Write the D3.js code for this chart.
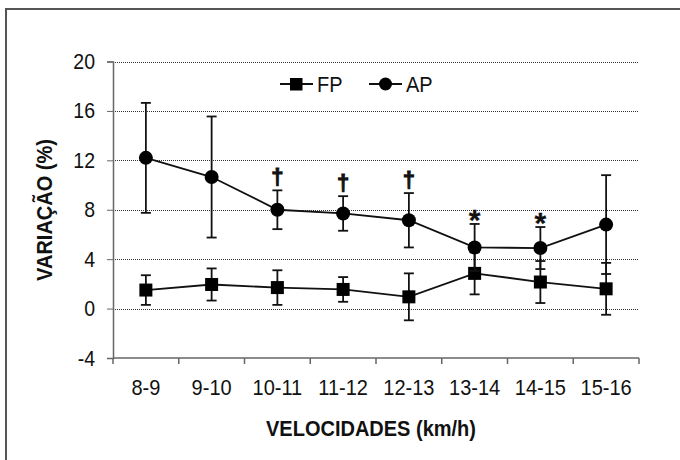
<!DOCTYPE html>
<html>
<head>
<meta charset="utf-8">
<script src="https://cdn.jsdelivr.net/npm/d3@7"></script>
<style>
html,body{margin:0;padding:0;background:#fff;}
svg{display:block;font-family:"Liberation Sans",Arial,sans-serif;}
</style>
</head>
<body>
<svg id="chart" width="680" height="460"></svg>
<script>
const categories = ["8-9","9-10","10-11","11-12","12-13","13-14","14-15","15-16"];
const fpMean = [1.5, 1.95, 1.7, 1.55, 0.95, 2.85, 2.15, 1.6];
const fpSD   = [1.2, 1.3, 1.4, 1.0, 1.9, 1.7, 1.7, 2.1];
const apMean = [12.2, 10.65, 8.0, 7.7, 7.15, 4.95, 4.9, 6.8];
const apSD   = [4.45, 4.9, 1.57, 1.4, 2.2, 1.9, 1.7, 4.0];
const annotations = ["", "", "†", "†", "†", "*", "*", ""];
const yTicks = [-4, 0, 4, 8, 12, 16, 20];
const gridTicks = [0, 4, 8, 12, 16, 20];
const seriesNames = ["FP", "AP"];

const svg = d3.select("#chart");
const x = d3.scaleBand().domain(categories).range([113, 639]).padding(0);
const y = d3.scaleLinear().domain([-4, 20]).range([358, 61.5]);
const cx = c => x(c) + x.bandwidth() / 2;
const SY = 1.1; // slight vertical stretch of text as in the reference

function stretchedText(sel, px, py, rot) {
  sel.attr("x", 0).attr("y", 0)
     .attr("transform", `translate(${px},${py})` + (rot ? ` rotate(${rot})` : "") + ` scale(1,${SY})`);
  return sel;
}

// outer frame
svg.append("rect").attr("x", 6).attr("y", 9).attr("width", 700).attr("height", 480)
  .attr("fill", "none").attr("stroke", "#555").attr("stroke-width", 2);

// gridlines
svg.append("g").selectAll("line").data(gridTicks).join("line")
  .attr("x1", 113).attr("x2", 639)
  .attr("y1", d => Math.round(y(d)) + 0.5).attr("y2", d => Math.round(y(d)) + 0.5)
  .attr("stroke", "#333").attr("stroke-width", 1).attr("stroke-dasharray", "1,1");

// y axis
const yAxis = d3.axisLeft(y).tickValues(yTicks).tickSize(6).tickPadding(12).tickFormat(d => String(d));
const gy = svg.append("g").attr("transform", "translate(113,0)").call(yAxis);
gy.select(".domain").attr("stroke", "#666").attr("stroke-width", 1.5);
gy.selectAll(".tick line").attr("stroke", "#666");
gy.selectAll(".tick text").each(function() {
  const t = d3.select(this);
  t.attr("dy", null).attr("dominant-baseline", null);
  stretchedText(t, -18, 7);
}).attr("font-size", 19.5).attr("fill", "#111")
  .attr("font-family", "'Liberation Sans',Arial,sans-serif");

// x axis: line + ticks at category boundaries
const gx = svg.append("g");
gx.append("line").attr("x1", 113).attr("x2", 639).attr("y1", y(-4)).attr("y2", y(-4))
  .attr("stroke", "#666").attr("stroke-width", 1.5);
gx.selectAll("line.tk").data(categories).join("line").attr("class", "tk")
  .attr("x1", d => x(d)).attr("x2", d => x(d))
  .attr("y1", y(-4)).attr("y2", y(-4) + 6).attr("stroke", "#666").attr("stroke-width", 1.5);
gx.append("line").attr("x1", 639).attr("x2", 639).attr("y1", y(-4)).attr("y2", y(-4) + 6)
  .attr("stroke", "#666").attr("stroke-width", 1.5);
gx.selectAll("text").data(categories).join("text")
  .each(function(d) { stretchedText(d3.select(this), cx(d), 395); })
  .attr("text-anchor", "middle").attr("font-size", 20).attr("fill", "#111").text(d => d);

// axis titles
stretchedText(svg.append("text"), 371, 436)
  .attr("text-anchor", "middle").attr("font-size", 20).attr("font-weight", "bold").attr("fill", "#111")
  .text("VELOCIDADES (km/h)");
stretchedText(svg.append("text"), 52, 210, -90)
  .attr("text-anchor", "middle").attr("font-size", 20).attr("font-weight", "bold").attr("fill", "#111")
  .text("VARIAÇÃO (%)");

const line = d3.line().x((d, i) => cx(categories[i])).y(d => y(d));

function drawSeries(means, sds, shape) {
  const g = svg.append("g");
  g.append("path").attr("d", line(means)).attr("fill", "none")
    .attr("stroke", "#111").attr("stroke-width", 1.8);
  const eb = g.selectAll("g.eb").data(means).join("g").attr("class", "eb");
  eb.append("line").attr("x1", (d, i) => cx(categories[i])).attr("x2", (d, i) => cx(categories[i]))
    .attr("y1", (d, i) => y(d - sds[i])).attr("y2", (d, i) => y(d + sds[i]))
    .attr("stroke", "#111").attr("stroke-width", 1.8);
  [-1, 1].forEach(s => {
    eb.append("line").attr("x1", (d, i) => cx(categories[i]) - 5).attr("x2", (d, i) => cx(categories[i]) + 5)
      .attr("y1", (d, i) => y(d + s * sds[i])).attr("y2", (d, i) => y(d + s * sds[i]))
      .attr("stroke", "#111").attr("stroke-width", 1.8);
  });
  if (shape === "square") {
    g.selectAll("rect").data(means).join("rect")
      .attr("x", (d, i) => cx(categories[i]) - 6.5).attr("y", d => y(d) - 6.5)
      .attr("width", 13).attr("height", 13).attr("fill", "#000");
  } else {
    g.selectAll("circle").data(means).join("circle")
      .attr("cx", (d, i) => cx(categories[i])).attr("cy", d => y(d)).attr("r", 7).attr("fill", "#000");
  }
}
drawSeries(fpMean, fpSD, "square");
drawSeries(apMean, apSD, "circle");

// significance marks
svg.append("g").selectAll("text").data(annotations).join("text")
  .attr("x", (d, i) => cx(categories[i]))
  .attr("y", (d, i) => d === "†" ? y(apMean[i] + apSD[i]) - 6 : y(apMean[i] + apSD[i]) + 6)
  .attr("text-anchor", "middle").attr("font-weight", "bold")
  .attr("font-size", d => d === "†" ? 22 : 30).attr("fill", "#111")
  .attr("stroke", "#111").attr("stroke-width", d => d === "†" ? 1 : 0.3)
  .text(d => d);

// legend
const lg = svg.append("g");
const legendItems = [{name: seriesNames[0], x0: 280, shape: "square"}, {name: seriesNames[1], x0: 369, shape: "circle"}];
legendItems.forEach(it => {
  lg.append("line").attr("x1", it.x0).attr("x2", it.x0 + 33).attr("y1", 84).attr("y2", 84)
    .attr("stroke", "#111").attr("stroke-width", 1.8);
  if (it.shape === "square") {
    lg.append("rect").attr("x", it.x0 + 10).attr("y", 78).attr("width", 12.5).attr("height", 12.5).attr("fill", "#000");
  } else {
    lg.append("circle").attr("cx", it.x0 + 16.5).attr("cy", 84).attr("r", 6.5).attr("fill", "#000");
  }
  stretchedText(lg.append("text"), it.x0 + 37, 91.5)
    .attr("font-size", 20).attr("fill", "#111").text(it.name);
});
</script>
</body>
</html>
